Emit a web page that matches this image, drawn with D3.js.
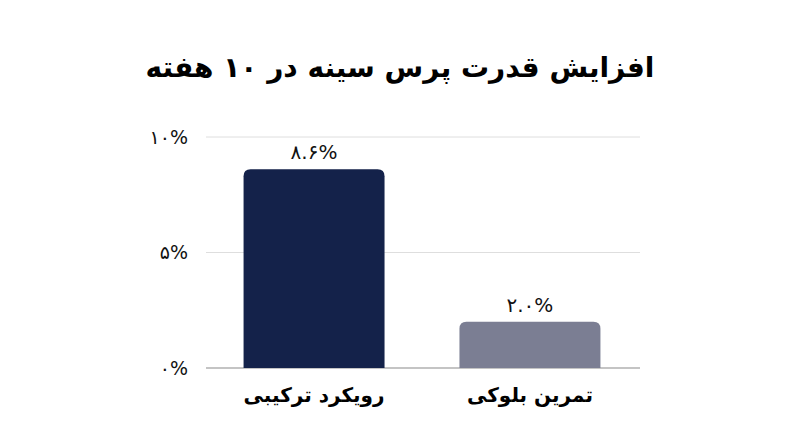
<html>
<head>
  <meta charset="utf-8">
  <style>
    body { margin: 0; background: #ffffff; }
  </style>
  <script src="https://d3js.org/d3.v7.min.js"></script>
</head>
<body>
  <div id="chart-container"></div>
  <script>
    // chart data
    const categories = ["رویکرد ترکیبی", "تمرین بلوکی"];
    const values = [8.6, 2.0];
    const barColors = ["#14224a", "#7b7e93"];
    const yTicks = [0, 5, 10];
    const title = "افزایش قدرت پرس سینه در ۱۰ هفته";

    // western digits -> persian digits
    const faDigits = "۰۱۲۳۴۵۶۷۸۹";
    const toFa = s => String(s).replace(/[0-9]/g, d => faDigits[+d]);

    const width = 800, height = 447;
    const margin = { top: 137, right: 160, bottom: 79, left: 206 };

    const svg = d3.select("#chart-container")
      .append("svg")
      .attr("width", width)
      .attr("height", height)
      .style("font-family", "'DejaVu Sans', sans-serif");

    svg.append("text")
      .attr("x", width / 2)
      .attr("y", 77)
      .attr("text-anchor", "middle")
      .attr("direction", "rtl")
      .style("font-size", "28px")
      .style("font-weight", "bold")
      .attr("fill", "#000")
      .text(title);

    const x = d3.scaleBand()
      .domain(categories)
      .range([margin.left, width - margin.right - 2])
      .paddingInner(0.347)
      .paddingOuter(0.174);

    const y = d3.scaleLinear()
      .domain([0, 10])
      .range([height - margin.bottom, margin.top]);

    // gridlines
    svg.append("g")
      .selectAll("line")
      .data(yTicks)
      .enter()
      .append("line")
      .attr("x1", margin.left)
      .attr("x2", width - margin.right)
      .attr("y1", d => y(d))
      .attr("y2", d => y(d))
      .attr("stroke", d => d === 0 ? "#8a8a8a" : "#dedede")
      .attr("stroke-width", d => d === 0 ? 1.2 : 1);

    // y axis labels
    const yAxis = d3.axisLeft(y)
      .tickValues(yTicks)
      .tickSize(0)
      .tickPadding(18)
      .tickFormat(d => toFa(d) + "%");

    svg.append("g")
      .attr("transform", `translate(${margin.left}, 0)`)
      .call(yAxis)
      .call(g => g.select(".domain").remove())
      .selectAll("text")
      .style("font-family", "'DejaVu Sans', sans-serif")
      .style("font-size", "19px")
      .attr("fill", "#111");

    // bars with rounded top corners
    const r = 7;
    const barPath = (x0, w, yTop, yBase) => {
      const rr = Math.min(r, (yBase - yTop));
      return `M${x0},${yBase} V${yTop + rr} Q${x0},${yTop} ${x0 + rr},${yTop} ` +
        `H${x0 + w - rr} Q${x0 + w},${yTop} ${x0 + w},${yTop + rr} V${yBase} Z`;
    };

    const bars = svg.append("g")
      .selectAll("g")
      .data(categories)
      .enter()
      .append("g");

    bars.append("path")
      .attr("d", (d, i) => barPath(x(d), x.bandwidth(), y(values[i]), y(0)))
      .attr("fill", (d, i) => barColors[i]);

    bars.append("text")
      .attr("x", d => x(d) + x.bandwidth() / 2)
      .attr("y", (d, i) => y(values[i]) - 10)
      .attr("text-anchor", "middle")
      .style("font-size", "20px")
      .attr("fill", "#111")
      .text((d, i) => toFa(values[i].toFixed(1)) + "%");

    // x axis labels
    const xAxis = d3.axisBottom(x).tickSize(0).tickPadding(20);
    svg.append("g")
      .attr("transform", `translate(0, ${y(0)})`)
      .call(xAxis)
      .call(g => g.select(".domain").remove())
      .selectAll("text")
      .attr("direction", "rtl")
      .style("font-family", "'DejaVu Sans', sans-serif")
      .style("font-size", "20px")
      .style("font-weight", "bold")
      .attr("fill", "#000");
  </script>
</body>
</html>
